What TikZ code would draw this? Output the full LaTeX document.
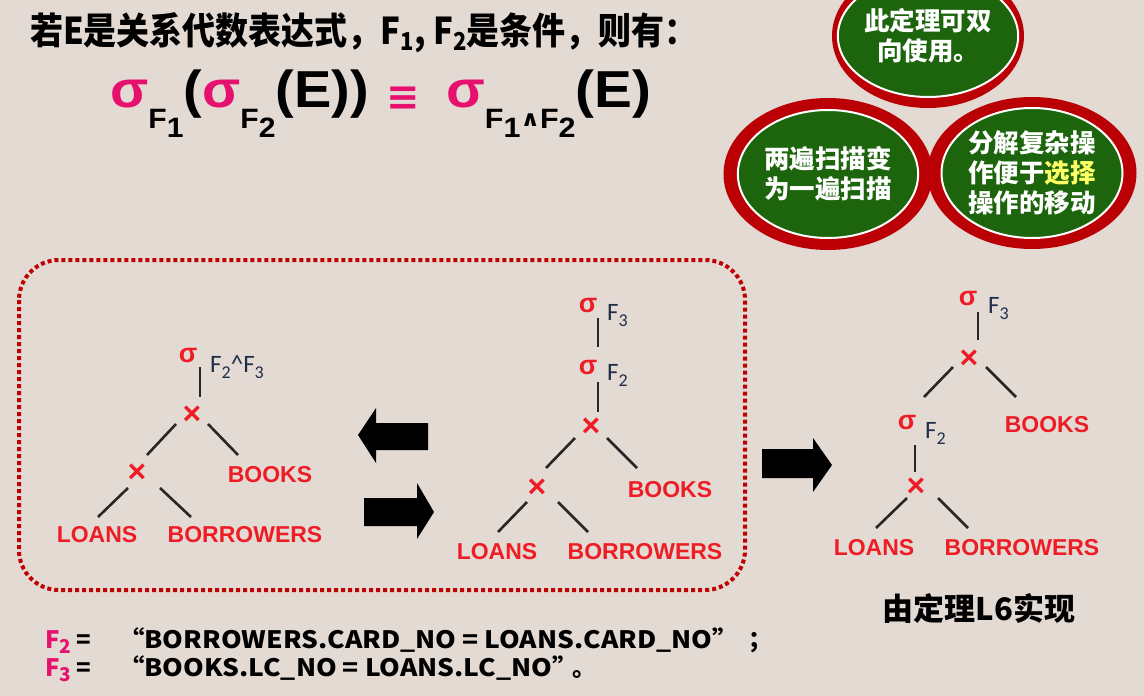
\documentclass[tikz,border=0pt]{standalone}
\usepackage{fontspec}
\usepackage{graphicx}
\setmainfont{Liberation Sans}
\newfontfamily\cjk{Noto Sans CJK SC}
\newfontfamily\calib{Carlito}
\newfontfamily\dejv{DejaVu Sans}
\usetikzlibrary{shapes.geometric}
\definecolor{bgc}{HTML}{E4DAD4}
\definecolor{pk}{HTML}{E6106E}
\definecolor{ringred}{HTML}{BA0004}
\definecolor{eggreen}{HTML}{1D650C}
\definecolor{yel}{HTML}{FFFF66}
\definecolor{trd}{HTML}{EE1C24}
\definecolor{lblc}{HTML}{1F2D4A}
\definecolor{dotred}{HTML}{C00000}
\newcommand\fs[1]{\fontsize{#1}{#1}\selectfont}
\newcommand\sbs[1]{\raisebox{-6pt}{\fs{18}#1}}
\newcommand\fsub[1]{\raisebox{-21pt}{\fs{28}F\raisebox{-9pt}{#1}}}
\newcommand\ed[6]{\draw[tedge] ([shift={(#2,#3)}]#1.center) -- ([shift={(#5,#6)}]#4.center);}
\tikzset{
  rel/.style={inner sep=0, text=trd, font=\bfseries\fs{23}},
  sg/.style={inner sep=0, text=trd, font=\bfseries\fs{27}},
  crs/.style={inner sep=0, text=trd, font=\bfseries\fs{32}},
  lbl/.style={inner sep=0, anchor=base west, text=lblc, font=\calib\fs{25}},
  tedge/.style={line width=2.6pt, black!85},
  ring/.style={ellipse, fill=ringred, inner sep=0},
  egg/.style={ellipse, fill=eggreen, draw=white, line width=2pt, inner sep=0, align=center, text=white, font=\cjk\bfseries\fs{25.5}, execute at begin node=\setlength{\baselineskip}{30pt}},
  blk/.style={fill=black},
  defn/.style={anchor=base west, inner sep=0, font=\cjk\bfseries\fs{24}},
}
\begin{document}
\begin{tikzpicture}[x=1pt,y=-1pt]
\useasboundingbox (0,0) rectangle (1144,696);
\clip (0,0) rectangle (1144,696);
\fill[bgc] (0,0) rectangle (1144,696);

% title
\node[anchor=base west, inner sep=0] (title) at (30,44)
  {\scalebox{1}[1.12]{\cjk\bfseries\fs{33}若E是关系代数表达式，F\raisebox{-6pt}{\fs{22}1}, F\raisebox{-6pt}{\fs{22}2}是条件，则有：}};

% formula
\node[anchor=base west, inner sep=0, font=\bfseries\fs{52}] (lhs) at (110,107)
  {\scalebox{1.075}[1]{{\color{pk}σ}\fsub{1}({\color{pk}σ}\fsub{2}(E))}};
\node[inner sep=0, text=pk, font=\dejv\bfseries\fs{40}] (equiv) at (403,99) {≡};
\node[anchor=base west, inner sep=0, font=\bfseries\fs{52}] (rhs) at (446,107)
  {\scalebox{1.09}[1]{{\color{pk}σ}\raisebox{-21pt}{\fs{28}F\raisebox{-9pt}{1}\raisebox{2pt}{\dejv\fs{22}∧}F\raisebox{-9pt}{2}}(E)}};

% ellipses
\node[ring, minimum width=192, minimum height=144] (r1) at (928,36) {};
\node[egg, minimum width=161, minimum height=122] (e1) at (928,36) {此定理可双\\向使用。};
\node[ring, minimum width=209, minimum height=152] (r2) at (828,174) {};
\node[egg, minimum width=179, minimum height=128] (e2) at (828,174) {两遍扫描变\\为一遍扫描};
\node[ring, minimum width=209, minimum height=152] (r3) at (1032,173) {};
\node[egg, minimum width=181, minimum height=130] (e3) at (1032,173) {分解复杂操\\作便于{\color{yel}选择}\\操作的移动};

% dotted frame
\draw[dotred, line width=4pt, dash pattern=on 4pt off 3pt, rounded corners=40] (19,260) rectangle (745,590);

% left tree
\node[sg] (ls) at (188,355) {σ};
\node[lbl] (ll) at (210,372) {F\sbs{2}\textasciicircum F\sbs{3}};
\node[crs] (lx1) at (192,415) {×};
\node[crs] (lx2) at (137,473) {×};
\node[rel] (lbk) at (270,475) {BOOKS};
\node[rel] (llo) at (97,535) {LOANS};
\node[rel] (lbo) at (245,535) {BORROWERS};
\ed{ls}{12}{12}{lx1}{8}{-18}
\ed{lx1}{-16}{9}{lx2}{10}{-18}
\ed{lx1}{16}{9}{lbk}{-32}{-20}
\ed{lx2}{-9}{15}{llo}{1}{-18}
\ed{lx2}{23}{15}{lbo}{-54}{-18}

% middle tree
\node[sg] (ms3) at (588,305) {σ};
\node[lbl] (ml3) at (607,320) {F\sbs{3}};
\node[sg] (ms2) at (588,367) {σ};
\node[lbl] (ml2) at (607,380) {F\sbs{2}};
\node[crs] (mx1) at (591,427) {×};
\node[crs] (mx2) at (537,488) {×};
\node[rel] (mbk) at (670,490) {BOOKS};
\node[rel] (mlo) at (497,552) {LOANS};
\node[rel] (mbo) at (645,552) {BORROWERS};
\ed{ms3}{10}{13}{ms2}{10}{-20}
\ed{ms2}{10}{15}{mx1}{7}{-15}
\ed{mx1}{-16}{11}{mx2}{9}{-20}
\ed{mx1}{16}{11}{mbk}{-33}{-22}
\ed{mx2}{-10}{14}{mlo}{1}{-20}
\ed{mx2}{21}{14}{mbo}{-57}{-20}

% right tree
\node[sg] (rs3) at (968,298) {σ};
\node[lbl] (rl3) at (988,313) {F\sbs{3}};
\node[crs] (rx1) at (969,359) {×};
\node[sg] (rs2) at (907,422) {σ};
\node[lbl] (rl2) at (925,438) {F\sbs{2}};
\node[rel] (rbk) at (1047,425) {BOOKS};
\node[crs] (rx2) at (916,487) {×};
\node[rel] (rlo) at (874,548) {LOANS};
\node[rel] (rbo) at (1022,548) {BORROWERS};
\ed{rs3}{10}{14}{rx1}{9}{-19}
\ed{rx1}{-16}{8}{rs2}{17}{-25}
\ed{rx1}{17}{8}{rbk}{-31}{-28}
\ed{rs2}{8}{23}{rx2}{-1}{-15}
\ed{rx2}{-9}{11}{rlo}{2}{-20}
\ed{rx2}{22}{11}{rbo}{-54}{-20}
\node[inner sep=0, font=\cjk\bfseries\fs{31}] (l6) at (979,608) {由定理L6实现};

% block arrows
\fill[blk] (358,435) -- (376,408) -- (376,423) -- (428,423) -- (428,450) -- (376,450) -- (376,463) -- cycle;
\fill[blk] (364,498) -- (417,498) -- (417,483) -- (434,512) -- (417,539) -- (417,526) -- (364,526) -- cycle;
\fill[blk] (762,449) -- (813,449) -- (813,438) -- (832,465) -- (813,492) -- (813,478) -- (762,478) -- cycle;

% definitions
\node[defn] (f2) at (45,648) {{\color{pk}F\raisebox{-5pt}{\fs{19}2}} =};
\node[defn] (d2) at (118,648) {\scalebox{1.1}[1]{“BORROWERS.CARD\_NO = LOANS.CARD\_NO”}};
\node[defn] (p2) at (748,648) {；};
\node[defn] (f3) at (45,676) {{\color{pk}F\raisebox{-5pt}{\fs{19}3}} =};
\node[defn] (d3) at (118,676) {\scalebox{1.1}[1]{“BOOKS.LC\_NO = LOANS.LC\_NO”}};
\node[defn] (p3) at (572,676) {。};
\end{tikzpicture}
\end{document}
